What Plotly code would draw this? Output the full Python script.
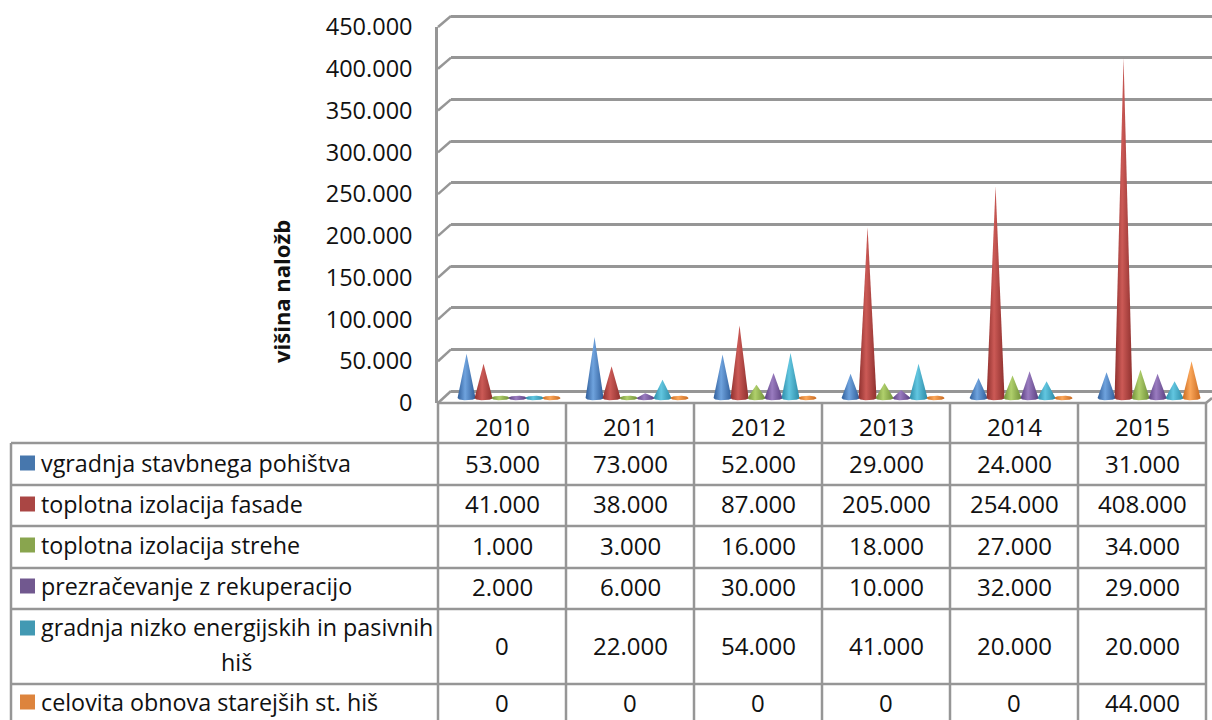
import plotly.graph_objects as go
import numpy as np

years = ["2010", "2011", "2012", "2013", "2014", "2015"]
series_names = ["vgradnja stavbnega pohištva", "toplotna izolacija fasade", "toplotna izolacija strehe",
                "prezračevanje z rekuperacijo", "gradnja nizko energijskih in pasivnih<br>hiš",
                "celovita obnova starejših st. hiš"]
vgradnja = [53000, 73000, 52000, 29000, 24000, 31000]
fasada = [41000, 38000, 87000, 205000, 254000, 408000]
streha = [1000, 3000, 16000, 18000, 27000, 34000]
prezracevanje = [2000, 6000, 30000, 10000, 32000, 29000]
nizkoenergijske = [0, 22000, 54000, 41000, 20000, 20000]
obnova = [0, 0, 0, 0, 0, 44000]
all_series = [vgradnja, fasada, streha, prezracevanje, nizkoenergijske, obnova]
y_ticks = list(range(0, 450001, 50000))

key_colors = ["#4777AD", "#AA4644", "#89A54E", "#71588F", "#4299B3", "#DD843D"]
dark_colors = ["#2F5D99", "#8E302E", "#6F8F38", "#5A3F80", "#2B8AA6", "#C8691F"]
light_colors = ["#6FA3DE", "#CC5A56", "#B0D06C", "#9A7CC0", "#62C6E0", "#FBA75A"]

W, H = 1212, 720
GRID = "#969696"
LW = 2.5
FONT = "Open Sans"
FS = 24
FS_LEG = 23.3
FS_TICK = 23.5
TXT = "#111111"


def fmt(v):
    return f"{v:,}".replace(",", ".")


def px(x):
    return x / W


def py(y):
    return 1 - y / H


def ydomain(bottom, top):
    return [py(bottom), py(top)]


fig = go.Figure()

# back wall grid subplot
fig.add_trace(go.Scatter(x=[0], y=[0], xaxis="x", yaxis="y", mode="lines", opacity=0,
                         showlegend=False, hoverinfo="skip"))

# cones
HALF_W = 0.07        # half base width in category units
STEP = 0.1328
ELL = 2800           # ellipse half height in value units
for k, (vals, name) in enumerate(zip(all_series, series_names)):
    for i, v in enumerate(vals):
        cx = i + 0.5 + 0.055 + (k - 2.5) * STEP
        t = np.linspace(-1, 1, 41)
        bottom = -ELL * np.sqrt(1 - t ** 2)
        top = np.maximum(ELL * np.sqrt(1 - t ** 2), v * (1 - np.abs(t)))
        xs = np.concatenate([cx + t * HALF_W, cx + t[::-1] * HALF_W])
        ys = np.concatenate([bottom, top[::-1]])
        fig.add_trace(go.Scatter(
            x=xs.tolist(), y=ys.tolist(), xaxis="x2", yaxis="y3", mode="lines",
            line=dict(width=0), fill="toself", name=name.replace("<br>", " "),
            fillgradient=dict(type="horizontal",
                              colorscale=[[0, dark_colors[k]], [0.42, light_colors[k]], [1, dark_colors[k]]]),
            showlegend=False, hoverinfo="skip"))

shapes = []
annotations = []


def line(x0, y0, x1, y1, color=GRID, width=LW):
    shapes.append(dict(type="line", xref="paper", yref="paper", x0=px(x0), y0=py(y0), x1=px(x1), y1=py(y1),
                       line=dict(color=color, width=width)))


# slanted connectors between the front axis and the back wall
for idx in range(len(y_ticks)):
    front = 403 - idx * (403 - 27) / 9
    back = 391 - idx * (391 - 16) / 9
    line(438, front, 451, back)
line(1206, 403, 1212, 398)

# table
row_edges = [443, 485, 526, 568, 609, 684]
col_edges = [438 + 128 * i for i in range(7)]
line(438, 403, 1206, 403)
for y in row_edges:
    line(11, y, 1206, y)
line(11, 443, 11, 720)
for x in col_edges:
    line(x, 403, x, 720)

for i, yr in enumerate(years):
    annotations.append(dict(x=i + 0.5, y=py(426), xref="x2", yref="paper", text=yr, showarrow=False,
                            font=dict(family=FONT, size=FS, color=TXT), xanchor="center", yanchor="middle"))

row_text_y = [463, 504, 545, 586, 645, 702]
for k, name in enumerate(series_names):
    yc = row_text_y[k]
    key_y = yc if k != 4 else 628
    shapes.append(dict(type="rect", xref="paper", yref="paper", x0=px(20), x1=px(35), y0=py(key_y - 7.5),
                       y1=py(key_y + 7.5), fillcolor=key_colors[k], line=dict(width=0)))
    if k == 4:
        parts = name.split("<br>")
        annotations.append(dict(x=px(39), y=py(627), xref="paper", yref="paper", text=parts[0], showarrow=False,
                                font=dict(family=FONT, size=FS_LEG, color=TXT), xanchor="left", yanchor="middle"))
        annotations.append(dict(x=px(236), y=py(662), xref="paper", yref="paper", text=parts[1], showarrow=False,
                                font=dict(family=FONT, size=FS_LEG, color=TXT), xanchor="center", yanchor="middle"))
    else:
        annotations.append(dict(x=px(39), y=py(yc), xref="paper", yref="paper", text=name, showarrow=False,
                                font=dict(family=FONT, size=FS_LEG, color=TXT), xanchor="left", yanchor="middle"))
    for i, v in enumerate(all_series[k]):
        annotations.append(dict(x=i + 0.5, y=py(yc), xref="x2", yref="paper", text=fmt(v), showarrow=False,
                                font=dict(family=FONT, size=FS, color=TXT), xanchor="center", yanchor="middle"))

# axis title
annotations.append(dict(x=px(281), y=py(292), xref="paper", yref="paper", text="<b>višina naložb</b>", textangle=-90,
                        showarrow=False, font=dict(family=FONT, size=22, color=TXT),
                        xanchor="center", yanchor="middle"))

# front labels axis needs a trace to be drawn
fig.add_trace(go.Scatter(x=[0], y=[0], xaxis="x2", yaxis="y2", mode="lines", opacity=0,
                         showlegend=False, hoverinfo="skip"))

fig.update_layout(
    width=W, height=H, margin=dict(l=0, r=0, t=0, b=0, autoexpand=False), autosize=False,
    paper_bgcolor="white", plot_bgcolor="rgba(0,0,0,0)", showlegend=False,
    shapes=shapes, annotations=annotations,
    xaxis=dict(domain=[px(451), 1], range=[0, 1], visible=False, showgrid=False, zeroline=False),
    yaxis=dict(domain=ydomain(396, 11), range=[-6000, 456000], tickvals=y_ticks, showgrid=True, gridcolor=GRID,
               gridwidth=LW, showticklabels=False, ticks="", zeroline=False, showline=False, anchor="x"),
    xaxis2=dict(domain=[px(438), px(1206)], range=[0, 6], visible=False, showgrid=False, zeroline=False),
    yaxis2=dict(domain=ydomain(403, 27), range=[0, 450000], tickvals=y_ticks, ticktext=[fmt(v) for v in y_ticks],
                showgrid=False, zeroline=False, showline=True, linecolor=GRID, linewidth=LW, ticks="outside",
                ticklen=18, tickcolor="rgba(0,0,0,0)", anchor="x2",
                tickfont=dict(family=FONT, size=FS_TICK, color=TXT)),
    yaxis3=dict(range=[-6000, 444800], overlaying="y2", anchor="x2", visible=False),
)

fig.write_html("out.html", config={"displayModeBar": False}, post_script="document.body.style.margin='0';")
